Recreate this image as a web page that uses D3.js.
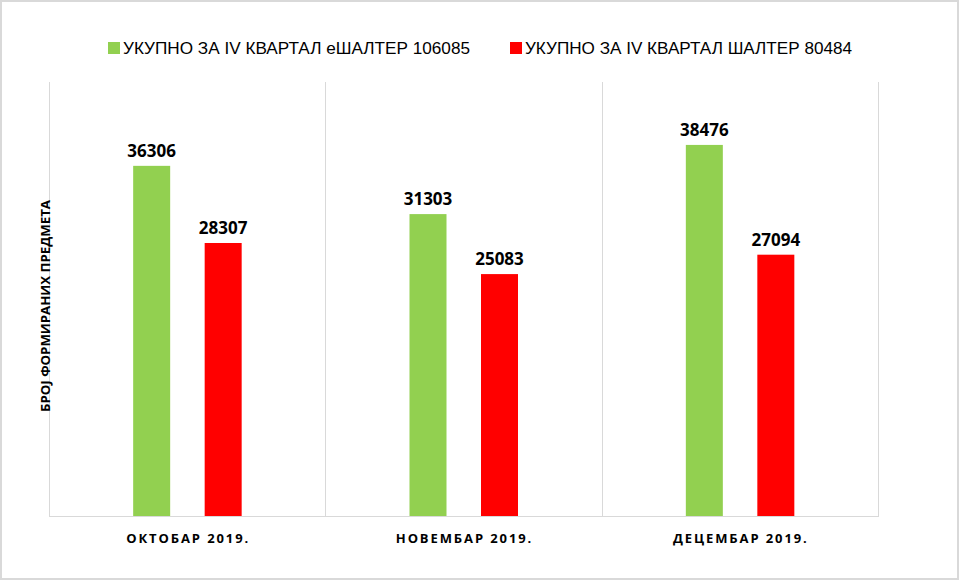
<!DOCTYPE html>
<html><head><meta charset="utf-8">
<script src="https://cdn.jsdelivr.net/npm/d3@7"></script>
<style>body{margin:0;background:#fff}svg{display:block}</style>
</head><body>
<svg id="c" width="959" height="580"></svg>
<script>
const categories = ["ОКТОБАР 2019.", "НОВЕМБАР 2019.", "ДЕЦЕМБАР 2019."];
const seriesNames = ["УКУПНО ЗА IV КВАРТАЛ еШАЛТЕР 106085", "УКУПНО ЗА IV КВАРТАЛ ШАЛТЕР 80484"];
const eShalter = [36306, 31303, 38476];
const shalter = [28307, 25083, 27094];
const yAxisTitle = "БРОЈ ФОРМИРАНИХ ПРЕДМЕТА";
const colors = ["#92d050", "#ff0000"];

const svg = d3.select("#c");
const W = 959, H = 580;
svg.append("rect").attr("x",1).attr("y",1).attr("width",W-2).attr("height",H-2)
  .attr("fill","#fff").attr("stroke","#d9d9d9").attr("stroke-width",2);

const pLeft = 49, pRight = 878, pTop = 82, pBottom = 516;
const x = d3.scaleBand().domain(categories).range([pLeft, pRight]);
const y = d3.scaleLinear().domain([0, 45000]).range([pBottom, pTop]);

// vertical grid lines (category separators)
const seps = categories.map(c => x(c)).concat([pRight]);
svg.append("g").selectAll("line").data(seps).join("line")
  .attr("x1", d => Math.round(d)+0.5).attr("x2", d => Math.round(d)+0.5)
  .attr("y1", pTop).attr("y2", pBottom)
  .attr("stroke", "#d9d9d9").attr("stroke-width", 1);
svg.append("line").attr("x1", pLeft).attr("x2", pRight+1).attr("y1", pBottom+0.5).attr("y2", pBottom+0.5)
  .attr("stroke", "#d9d9d9").attr("stroke-width", 1);

const series = [eShalter, shalter];
const bw = 37, centers = [-35.5, 36];
series.forEach((vals, si) => {
  const g = svg.append("g");
  g.selectAll("rect").data(vals).join("rect")
    .attr("x", (d,i) => x(categories[i]) + x.bandwidth()/2 + centers[si] - bw/2)
    .attr("width", bw)
    .attr("y", d => y(d))
    .attr("height", d => pBottom - y(d))
    .attr("fill", colors[si]);
  g.selectAll("text").data(vals).join("text")
    .attr("x", (d,i) => x(categories[i]) + x.bandwidth()/2 + centers[si])
    .attr("y", d => y(d) - 9)
    .attr("text-anchor", "middle")
    .attr("font-family", "'Open Sans', sans-serif").attr("font-weight", "bold")
    .attr("font-size", 17).attr("fill", "#000")
    .text(d => d);
});

// x axis labels
svg.append("g").selectAll("text").data(categories).join("text")
  .attr("x", d => x(d) + x.bandwidth()/2 + 1)
  .attr("y", 543)
  .attr("text-anchor", "middle")
  .attr("font-family", "'Open Sans', sans-serif").attr("font-weight", "bold")
  .attr("font-size", 13).attr("letter-spacing", 1.9).attr("fill", "#000")
  .text(d => d);

// y axis title
svg.append("text")
  .attr("transform", "translate(50,306) rotate(-90)")
  .attr("text-anchor", "middle")
  .attr("font-family", "'Open Sans', sans-serif").attr("font-weight", "bold")
  .attr("font-size", 13).attr("fill", "#000")
  .attr("textLength", 212).attr("lengthAdjust", "spacingAndGlyphs")
  .text(yAxisTitle);

// legend
const legendX = [108, 510], legendW = [347, 327];
seriesNames.forEach((n, i) => {
  svg.append("rect").attr("x", legendX[i]).attr("y", 42).attr("width", 12).attr("height", 12).attr("fill", colors[i]);
  svg.append("text").attr("x", legendX[i] + 15).attr("y", 54)
    .attr("font-family", "'Liberation Sans Narrow', 'Liberation Sans', sans-serif")
    .attr("font-size", 17).attr("fill", "#000")
    .attr("textLength", legendW[i]).attr("lengthAdjust", "spacingAndGlyphs")
    .text(n);
});
</script>
</body></html>
